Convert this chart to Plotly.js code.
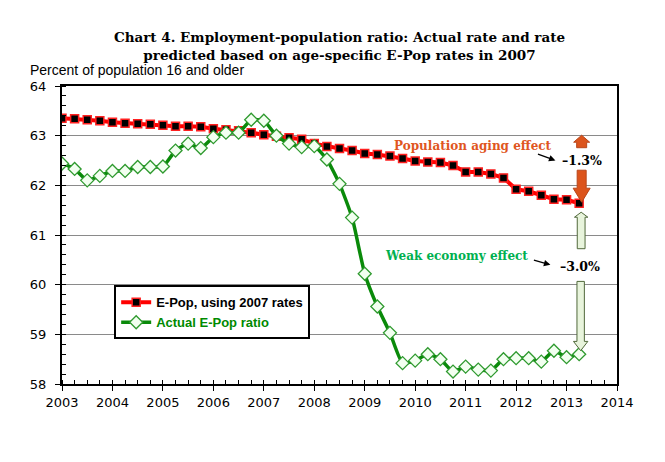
<!DOCTYPE html>
<html>
<head>
<meta charset="utf-8">
<script src="https://cdn.plot.ly/plotly-3.0.1.min.js"></script>
<style>html,body{margin:0;padding:0;background:#fff;}#chart{width:665px;height:462px;}</style>
</head>
<body>
<div id="chart"></div>
<script>
// Quarterly observations, 2003 Q1 to 2013 Q2
var startYear = 2003;
var nQuarters = 42;
var quarters = [];
for (var i = 0; i < nQuarters; i++) { quarters.push(startYear + i * 0.25); }

var epop2007Rates = [63.35, 63.34, 63.32, 63.30, 63.27, 63.25, 63.24, 63.23, 63.21, 63.19,
  63.19, 63.18, 63.14, 63.12, 63.10, 63.06, 63.02, 62.99, 62.96, 62.93,
  62.84, 62.78, 62.74, 62.70, 62.64, 62.62, 62.59, 62.54, 62.49, 62.47,
  62.46, 62.40, 62.27, 62.27, 62.23, 62.15, 61.92, 61.88, 61.80, 61.72,
  61.71, 61.64];

var actualEpop = [62.44, 62.33, 62.10, 62.19, 62.29, 62.29, 62.37, 62.37, 62.38, 62.70,
  62.84, 62.75, 62.97, 63.06, 63.06, 63.32, 63.30, 63.00, 62.84, 62.77,
  62.79, 62.52, 62.03, 61.35, 60.22, 59.56, 59.03, 58.42, 58.47, 58.60,
  58.50, 58.25, 58.35, 58.29, 58.27, 58.50, 58.52, 58.52, 58.45, 58.67,
  58.54, 58.60];

var yearTicks = [2003, 2004, 2005, 2006, 2007, 2008, 2009, 2010, 2011, 2012, 2013, 2014];
var yTicks = [58, 59, 60, 61, 62, 63, 64];

var agingEffectLabel = "\u20131.3%";
var economyEffectLabel = "\u20133.0%";

var lastX = quarters[quarters.length - 1];
var lastRed = epop2007Rates[epop2007Rates.length - 1];
var lastGreen = actualEpop[actualEpop.length - 1];

var traces = [
  {
    x: quarters, y: epop2007Rates, type: 'scatter', mode: 'lines+markers',
    name: '<b>E-Pop, using 2007 rates</b>',
    line: {color: '#ff0000', width: 4},
    marker: {symbol: 'square', size: 8, color: '#000000', line: {color: '#ff2020', width: 1.5}}
  },
  {
    x: quarters, y: actualEpop, type: 'scatter', mode: 'lines+markers',
    name: '<b><span style="color:#008a00">Actual E-Pop ratio</span></b>',
    line: {color: '#0a8a0a', width: 3.5, shape: 'spline', smoothing: 0.5},
    marker: {symbol: 'diamond', size: 10, color: '#f2fff0', line: {color: '#2f9a2f', width: 1.3}}
  }
];

function blockArrow(cx, tip, headBase, tail, headHalf, shaftHalf) {
  return 'M ' + (cx - shaftHalf) + ' ' + tail +
    ' L ' + (cx + shaftHalf) + ' ' + tail +
    ' L ' + (cx + shaftHalf) + ' ' + headBase +
    ' L ' + (cx + headHalf) + ' ' + headBase +
    ' L ' + cx + ' ' + tip +
    ' L ' + (cx - headHalf) + ' ' + headBase +
    ' L ' + (cx - shaftHalf) + ' ' + headBase + ' Z';
}

function arrowShape(yAnchor, path, fill, border) {
  return {
    type: 'path', xref: 'x', yref: 'y', xsizemode: 'pixel', ysizemode: 'pixel',
    xanchor: lastX, yanchor: yAnchor, path: path,
    fillcolor: fill, line: {color: border, width: 1}, layer: 'above'
  };
}

var orange = '#dc541c', orangeDark = '#b8461a';
var paleGreen = '#e8f4dc', paleGreenBorder = '#50683a';

var shapes = [
  arrowShape(lastRed, blockArrow(2.5, 1, 15, 33, 8.5, 4.5), orange, orangeDark),
  arrowShape(lastRed, blockArrow(2.5, 68, 61, 55.5, 8, 5), orange, orangeDark),
  arrowShape(lastRed, blockArrow(2, -9, -14, -45.5, 6.7, 3.9), paleGreen, paleGreenBorder),
  arrowShape(lastGreen, blockArrow(1.5, 3.5, 12.8, 72.8, 7.2, 3.7), paleGreen, paleGreenBorder)
];

var serif = 'DejaVu Serif, Liberation Serif, serif';
var annotations = [
  {xref: 'paper', yref: 'paper', x: -0.061, y: 1.054, xanchor: 'left', yanchor: 'middle',
   text: 'Percent of population 16 and older', showarrow: false,
   font: {family: 'Liberation Sans Narrow, Liberation Sans, sans-serif', size: 14, color: '#000'}},
  {x: 2011.14, y: 62.80, xref: 'x', yref: 'y', text: '<b>Population aging effect</b>', showarrow: false,
   font: {family: serif, size: 12, color: '#e0561e'}},
  {x: 2012.78, y: 62.50, xref: 'x', yref: 'y', text: '', showarrow: true, ax: -19, ay: -7,
   arrowhead: 2, arrowsize: 1, arrowwidth: 1.3, arrowcolor: '#000'},
  {x: 2013.31, y: 62.50, xref: 'x', yref: 'y', text: '<b>' + agingEffectLabel + '</b>', showarrow: false,
   font: {family: serif, size: 12.5, color: '#000'}},
  {x: 2010.81, y: 60.585, xref: 'x', yref: 'y', text: '<b>Weak economy effect</b>', showarrow: false,
   font: {family: serif, size: 12, color: '#00b050'}},
  {x: 2012.68, y: 60.40, xref: 'x', yref: 'y', text: '', showarrow: true, ax: -18, ay: -5,
   arrowhead: 2, arrowsize: 1, arrowwidth: 1.3, arrowcolor: '#000'},
  {x: 2013.27, y: 60.36, xref: 'x', yref: 'y', text: '<b>' + economyEffectLabel + '</b>', showarrow: false,
   font: {family: serif, size: 12.5, color: '#000'}}
];

var tickFont = {family: 'DejaVu Sans, Verdana, sans-serif', size: 13, color: '#000'};

var layout = {
  width: 665, height: 462,
  margin: {l: 62, r: 48, t: 86, b: 78, pad: 0},
  paper_bgcolor: '#ffffff', plot_bgcolor: '#ffffff',
  title: {
    text: '<b>Chart 4. Employment-population ratio: Actual rate and rate<br>predicted based on age-specific E-Pop rates in 2007</b>',
    font: {family: serif, size: 13.5, color: '#000'},
    x: 0.5, xanchor: 'center', xref: 'paper', y: 0.909, yanchor: 'top', yref: 'container'
  },
  showlegend: true,
  legend: {
    x: 0.094, y: 0.331, xanchor: 'left', yanchor: 'top',
    bgcolor: '#ffffff', bordercolor: '#000000', borderwidth: 2,
    font: {family: 'Liberation Sans, Arial, sans-serif', size: 13, color: '#000'},
    itemwidth: 30, tracegroupgap: 0
  },
  xaxis: {
    range: [2003, 2014], tickmode: 'array', tickvals: yearTicks, ticktext: yearTicks.map(String),
    ticks: 'outside', ticklen: 5, tickwidth: 1, tickcolor: '#000',
    minor: {dtick: 0.25, tick0: 2003, ticks: 'inside', ticklen: 4, tickcolor: '#000', showgrid: false},
    showline: true, linecolor: '#000', linewidth: 2, mirror: true,
    showgrid: false, zeroline: false, tickfont: tickFont, fixedrange: true
  },
  yaxis: {
    range: [58, 64], tickmode: 'array', tickvals: yTicks, ticktext: yTicks.map(String),
    ticks: 'outside', ticklen: 5, tickwidth: 1, tickcolor: '#000',
    minor: {dtick: 0.2, tick0: 58, ticks: 'inside', ticklen: 4, tickcolor: '#000', showgrid: false},
    showline: true, linecolor: '#000', linewidth: 2, mirror: true,
    showgrid: true, gridcolor: '#8a8a8a', gridwidth: 1, zeroline: false,
    tickfont: tickFont, ticklabelstandoff: 6, fixedrange: true
  },
  shapes: shapes,
  annotations: annotations
};

Plotly.newPlot('chart', traces, layout, {displayModeBar: false, staticPlot: true});
</script>
</body>
</html>
